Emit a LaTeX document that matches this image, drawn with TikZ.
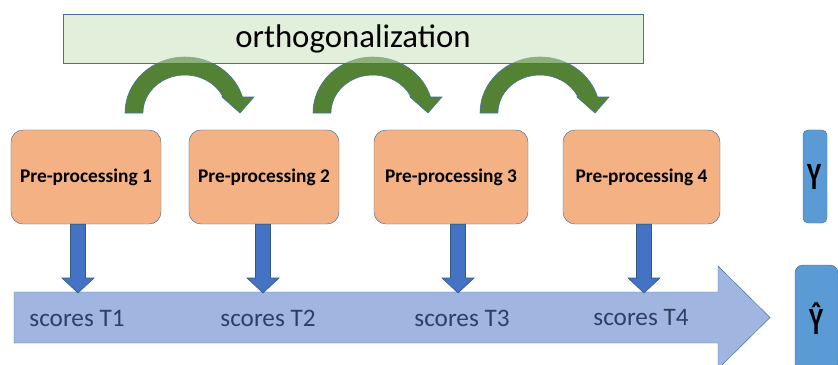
\documentclass[tikz,border=0pt]{standalone}
\usepackage{graphicx}
\usepackage{fontspec}
\setmainfont{Carlito}
\definecolor{orthofill}{RGB}{197,223,181}
\definecolor{prefill}{RGB}{244,177,131}
\definecolor{edgeblue}{RGB}{65,113,156}
\definecolor{bendgreen}{RGB}{84,130,53}
\definecolor{bandfill}{RGB}{160,181,224}
\definecolor{downblue}{RGB}{68,114,196}
\definecolor{ybox}{RGB}{91,155,213}
\definecolor{scoretext}{RGB}{46,63,100}
\tikzset{
  prebox/.style={draw=edgeblue, fill=prefill, rounded corners=0.36cm, minimum height=2.82cm,
    font=\fontsize{16.5}{20}\selectfont\bfseries, inner sep=0pt},
  yvar/.style={draw=edgeblue, fill=ybox, inner sep=0pt, font=\fontsize{33}{35}\selectfont\bfseries},
  bendarrow/.style={draw=edgeblue, fill=bendgreen, line width=0.5pt},
  downarrow/.style={draw=edgeblue!80!black, fill=downblue, line width=0.5pt},
  score/.style={text=scoretext, font=\fontsize{21.5}{24}\selectfont}
}
\begin{document}
\begin{tikzpicture}[x=0.03cm,y=-0.03cm]
	\useasboundingbox (0,0) rectangle (838,365);
	\clip (0,0) rectangle (838,365);
	% curved arrows, under the box
	\foreach \cx in {185,373,540}{
		\draw[bendarrow] (\cx-60,113) arc[start angle=180,end angle=343.4,x radius=60,y radius=56]
			-- (\cx+69,97) -- (\cx+55,113) -- (\cx+37,97) -- (\cx+38,97)
			arc[start angle=335.1,end angle=180,x radius=42,y radius=38] -- cycle;
	}
	\node[draw=edgeblue, fill=orthofill, fill opacity=0.5, text opacity=1, minimum width=17.4cm, minimum height=1.47cm,
		font=\fontsize{28}{30}\selectfont] (ortho) at (353,38.5) {orthogonalization};
	% pre-processing steps
	\node[prebox, minimum width=4.5cm] (pre1) at (86,177) {Pre-processing 1};
	\node[prebox, minimum width=4.5cm] (pre2) at (264,177) {Pre-processing 2};
	\node[prebox, minimum width=4.62cm] (pre3) at (451,177) {Pre-processing 3};
	\node[prebox, minimum width=4.71cm] (pre4) at (641.5,177) {Pre-processing 4};
	% scores band
	\draw[draw=edgeblue, fill=bandfill] (14,292) -- (718,292) -- (718,266) -- (770,317.5)
		-- (718,369) -- (718,343) -- (14,343) -- cycle;
	\node[score] (t1) at (77,318) {scores T1};
	\node[score] (t2) at (268,318) {scores T2};
	\node[score] (t3) at (462,318) {scores T3};
	\node[score] (t4) at (641,318) {scores T4};
	% down arrows
	\foreach \i/\ax in {1/78,2/263,3/458,4/644}{
		\draw[downarrow] (pre\i.south -| \ax-7.5,0) -- (\ax-7.5,278) -- (\ax-16,278) -- (\ax,293)
			-- (\ax+16,278) -- (\ax+7.5,278) -- (pre\i.south -| \ax+7.5,0) -- cycle;
	}
	% Y and Y hat
	\node[yvar, rounded corners=0.15cm, minimum width=0.72cm, minimum height=2.79cm] (y) at (815,176.5) {\scalebox{0.7}[1]{Y}};
	\node[yvar, rounded corners=0.24cm, minimum width=1.29cm, minimum height=3.21cm] (yhat) at (816.5,318.5) {\scalebox{0.7}[1]{\^{Y}}};
\end{tikzpicture}
\end{document}
